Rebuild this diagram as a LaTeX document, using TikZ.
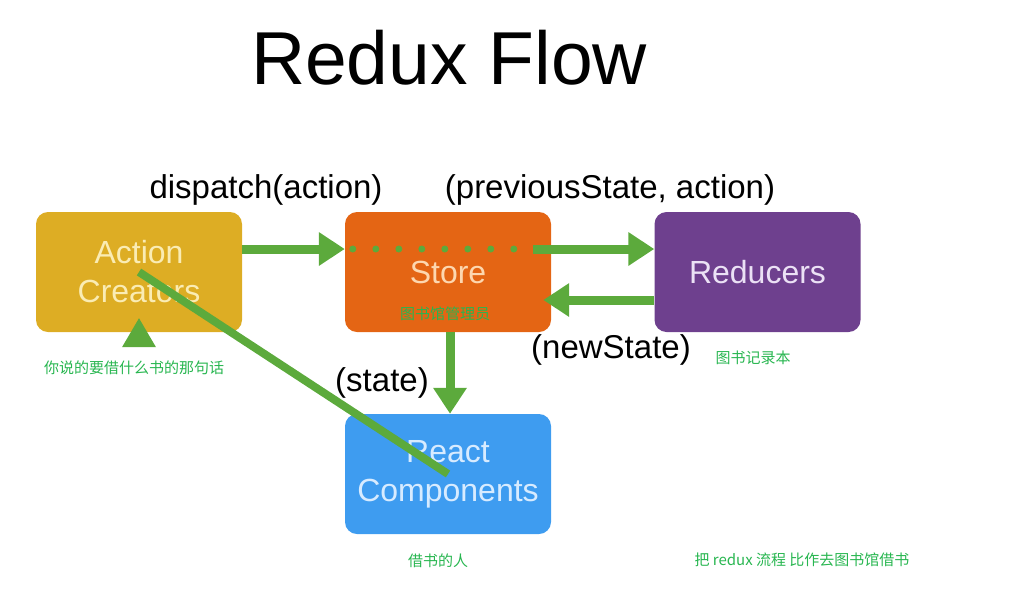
\documentclass[tikz,border=0pt]{standalone}
\usepackage{fontspec}
\setmainfont{Liberation Sans}
\newfontfamily\cjk{Noto Sans CJK SC}
\usetikzlibrary{arrows.meta}
\definecolor{acgold}{RGB}{221,173,36}
\definecolor{storeorange}{RGB}{228,101,20}
\definecolor{redpurple}{RGB}{110,64,142}
\definecolor{reactblue}{RGB}{62,156,240}
\definecolor{flowgreen}{RGB}{92,170,60}
\definecolor{notegreen}{RGB}{40,182,80}
\begin{document}
\begin{tikzpicture}[x=1pt, y=-1pt,
  box/.style={rounded corners=12pt, minimum width=206pt, minimum height=120pt, align=center, inner sep=0pt, font=\fontsize{32}{39}\selectfont},
  flow/.style={draw=flowgreen, line width=9pt, -{Triangle[length=26pt,width=32pt]}},
  lbl/.style={font=\fontsize{33}{38}\selectfont, inner sep=0pt},
  note/.style={text=notegreen, font=\cjk\fontsize{15}{18}\selectfont, inner sep=0pt}]
\useasboundingbox (0,0) rectangle (1026,611);
\node[font=\fontsize{75}{80}\selectfont, inner sep=0pt] (title) at (449,58) {Redux Flow};
\node[box, fill=acgold, text={rgb,255:red,250;green,236;blue,180}] (ac) at (139,272) {Action\\Creators};
\node[box, fill=storeorange, text={rgb,255:red,253;green,215;blue,175}] (st) at (448,272) {Store};
\node[box, fill=redpurple, text={rgb,255:red,235;green,225;blue,245}] (rd) at (757.5,272) {Reducers};
\node[box, fill=reactblue, text={rgb,255:red,215;green,235;blue,255}] (rc) at (448,474) {React\\Components};
% arrows
\draw[flow] ([yshift=23pt]ac.east) -- ([yshift=23pt]st.west);
\foreach \i in {0,...,7}
  \fill[flowgreen] ([xshift=8pt+23*\i pt, yshift=23pt]st.west) circle (3.5pt);
\draw[flow] ([xshift=-18pt, yshift=23pt]st.east) -- ([yshift=23pt]rd.west);
\draw[flow] ([yshift=-28pt]rd.west) -- ([xshift=-8pt, yshift=-28pt]st.east);
\draw[flow] ([xshift=2pt]st.south) -- ([xshift=2pt]rc.north);
\draw[flowgreen, line width=8pt] (ac.center) -- (rc.center);
\fill[flowgreen] ([yshift=14pt]ac.south) -- ([xshift=-17pt, yshift=-15pt]ac.south) -- ([xshift=17pt, yshift=-15pt]ac.south) -- cycle;
% labels
\node[lbl] (dispatch) at (266,190) {dispatch(action)};
\node[lbl] (prev) at (610,190) {(previousState, action)};
\node[lbl] (newstate) at (611,350) {(newState)};
\node[lbl] (state) at (382,383) {(state)};
% notes
\node[note] (n1) at (445,314) {图书馆管理员};
\node[note] (n2) at (134,368) {你说的要借什么书的那句话};
\node[note] (n3) at (753,358) {图书记录本};
\node[note] (n4) at (438,561) {借书的人};
\node[note] (n5) at (802,560) {把 redux 流程 比作去图书馆借书};
\end{tikzpicture}
\end{document}
